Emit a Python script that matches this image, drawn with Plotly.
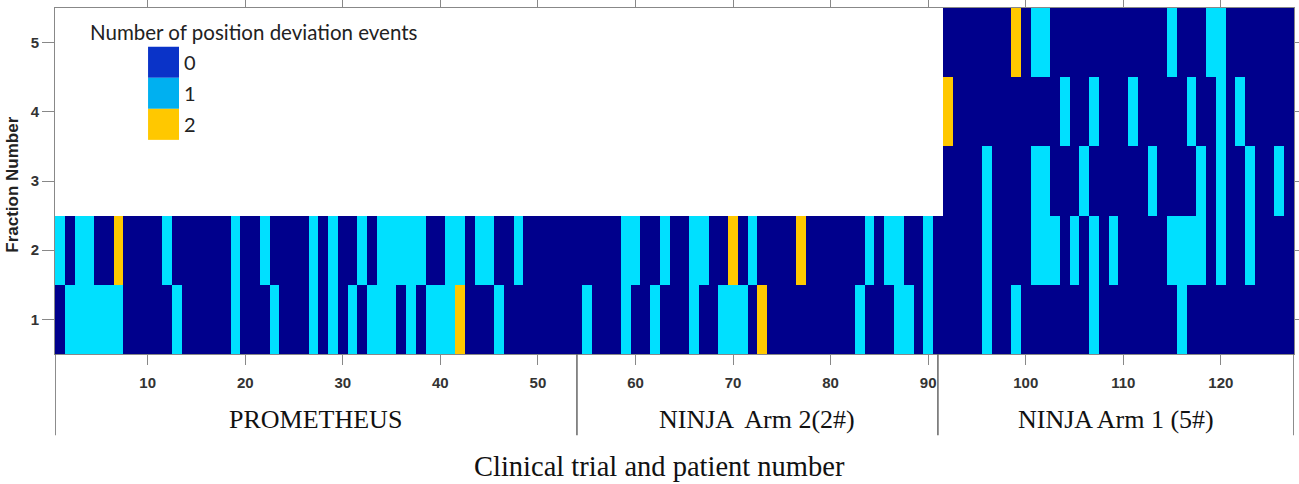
import plotly.graph_objects as go

# patient numbers 1..127, fraction numbers 1..5
patients = list(range(1, 128))
fractions = [1, 2, 3, 4, 5]

# number of position deviation events per patient, per fraction
# (PROMETHEUS and NINJA Arm 2 only have 2 fractions)
fraction_1 = [
    0, 1, 1, 1, 1, 1, 1, 0, 0, 0,
    0, 0, 1, 0, 0, 0, 0, 0, 1, 0,
    0, 0, 1, 0, 0, 0, 1, 0, 1, 0,
    1, 0, 1, 1, 1, 0, 1, 0, 1, 1,
    1, 2, 0, 0, 0, 1, 0, 0, 0, 0,
    0, 0, 0, 0, 1, 0, 0, 0, 1, 0,
    0, 1, 0, 0, 0, 1, 0, 0, 1, 1,
    1, 0, 2, 0, 0, 0, 0, 0, 0, 0,
    0, 0, 1, 0, 0, 0, 1, 1, 0, 1,
    0, 0, 0, 0, 0, 1, 0, 0, 1, 0,
    0, 0, 0, 0, 0, 0, 1, 0, 0, 0,
    0, 0, 0, 0, 0, 1, 0, 0, 0, 0,
    0, 0, 0, 0, 0, 0, 0,
]
fraction_2 = [
    1, 0, 1, 1, 0, 0, 2, 0, 0, 0,
    0, 1, 0, 0, 0, 0, 0, 0, 1, 0,
    0, 1, 0, 0, 0, 0, 1, 0, 1, 0,
    0, 1, 0, 1, 1, 1, 1, 1, 0, 0,
    1, 1, 0, 1, 1, 0, 0, 1, 0, 0,
    0, 0, 0, 0, 0, 0, 0, 0, 1, 1,
    0, 0, 1, 0, 0, 1, 1, 0, 0, 2,
    0, 1, 0, 0, 0, 0, 2, 0, 0, 0,
    0, 0, 0, 1, 0, 1, 1, 0, 0, 1,
    0, 0, 0, 0, 0, 1, 0, 0, 0, 0,
    1, 1, 1, 0, 1, 0, 1, 0, 1, 0,
    0, 0, 0, 0, 1, 1, 1, 1, 0, 1,
    0, 0, 1, 0, 0, 0, 0,
]
# fractions 3-5 exist only for NINJA Arm 1 (patients 92..127)
fraction_3 = [None] * 91 + [
    0, 0, 0, 0, 1, 0, 0, 0, 0, 1,
    1, 0, 0, 0, 1, 0, 0, 0, 0, 0,
    0, 1, 0, 0, 0, 0, 1, 0, 1, 0,
    0, 1, 0, 0, 1, 0,
]
fraction_4 = [None] * 91 + [
    2, 0, 0, 0, 0, 0, 0, 0, 0, 0,
    0, 0, 1, 0, 0, 1, 0, 0, 0, 1,
    0, 0, 0, 0, 0, 1, 0, 0, 1, 0,
    1, 0, 0, 0, 0, 0,
]
fraction_5 = [None] * 91 + [
    0, 0, 0, 0, 0, 0, 0, 2, 0, 1,
    1, 0, 0, 0, 0, 0, 0, 0, 0, 0,
    0, 0, 0, 1, 0, 0, 0, 1, 1, 0,
    0, 0, 0, 0, 0, 0,
]

x_ticks = [10, 20, 30, 40, 50, 60, 70, 80, 90, 100, 110, 120]

# trials: name, and the patient edges between them
trial_names = ['PROMETHEUS', 'NINJA  Arm 2(2#)', 'NINJA Arm 1 (5#)']
trial_bounds = [0.5, 54, 91, 127.5]

legend_labels = ['0', '1', '2']
legend_colors = ['#0a33c8', '#00b0f0', '#ffc800']

navy = '#00008c'
cyan = '#00e0ff'
yellow = '#ffc800'

z = [fraction_1, fraction_2, fraction_3, fraction_4, fraction_5]

fig = go.Figure()
fig.add_trace(go.Heatmap(
    x=patients, y=fractions, z=z,
    zmin=0, zmax=2,
    colorscale=[[0, navy], [0.25, navy], [0.25, cyan], [0.75, cyan],
                [0.75, yellow], [1, yellow]],
    showscale=False,
    hovertemplate='Patient %{x}<br>Fraction %{y}<br>Events %{z}<extra></extra>',
))

tick_font = dict(family='Liberation Sans, Arial', size=15, color='#333333', weight='bold')

fig.update_xaxes(
    range=[0.5, 127.5], tickvals=x_ticks, ticks='outside', ticklen=10,
    tickcolor='#888888', showline=True, linecolor='#888888', mirror='ticks',
    showgrid=False, zeroline=False, tickfont=tick_font, automargin=False,
    ticklabelstandoff=5,
)
fig.update_yaxes(
    range=[0.5, 5.5], tickvals=fractions, ticks='outside', ticklen=12,
    tickcolor='#888888', showline=True, linecolor='#888888', mirror='ticks',
    showgrid=False, zeroline=False, tickfont=tick_font, automargin=False,
)
# y title placed by hand so the plot area keeps its left edge
fig.add_annotation(x=-0.0345, y=0.49, xref='paper', yref='paper', text='Fraction Number',
                   textangle=-90, showarrow=False, xanchor='center', yanchor='middle',
                   font=dict(family='Liberation Sans, Arial', size=17, color='#222222', weight='bold'))

# separators and trial names under the axis
for b in trial_bounds:
    fig.add_shape(type='line', xref='x', yref='paper', x0=b, x1=b, y0=0, y1=-0.235,
                  line=dict(color='#666666', width=1.5))
for name, a, b in zip(trial_names, trial_bounds[:-1], trial_bounds[1:]):
    fig.add_annotation(x=(a + b) / 2, y=-0.188, xref='x', yref='paper', text=name,
                       showarrow=False, yanchor='middle',
                       font=dict(family='Liberation Serif, Times New Roman', size=26, color='#111111'))

fig.add_annotation(x=0.4875, y=-0.325, xref='paper', yref='paper',
                   text='Clinical trial and patient number', showarrow=False, yanchor='middle',
                   font=dict(family='Liberation Serif, Times New Roman', size=28.5, color='#111111'))

# legend block drawn in the empty top-left area
fig.add_annotation(x=0.027, y=0.93, xref='paper', yref='paper', xanchor='left', yanchor='middle',
                   text='Number of position deviation events', showarrow=False,
                   font=dict(family='Lato, Open Sans', size=20.5, color='#222222'))
sw_top = 0.888
sw_h = 0.0897
for i, (lab, col) in enumerate(zip(legend_labels, legend_colors)):
    y1 = sw_top - i * sw_h
    y0 = y1 - sw_h
    fig.add_shape(type='rect', xref='paper', yref='paper', x0=0.0751, x1=0.1001,
                  y0=y0, y1=y1, fillcolor=col, line=dict(width=0))
    fig.add_annotation(x=0.1025, y=(y0 + y1) / 2, xref='paper', yref='paper',
                       xanchor='left', yanchor='middle', text=lab, showarrow=False,
                       font=dict(family='Lato, Open Sans', size=20, color='#222222'))

fig.update_layout(
    width=1299, height=484,
    margin=dict(l=55, r=5, t=8, b=130, autoexpand=False),
    plot_bgcolor='white', paper_bgcolor='white',
    showlegend=False,
)

fig.write_html('out.html', config={'displayModeBar': False},
               post_script="document.body.style.margin='0px';")
